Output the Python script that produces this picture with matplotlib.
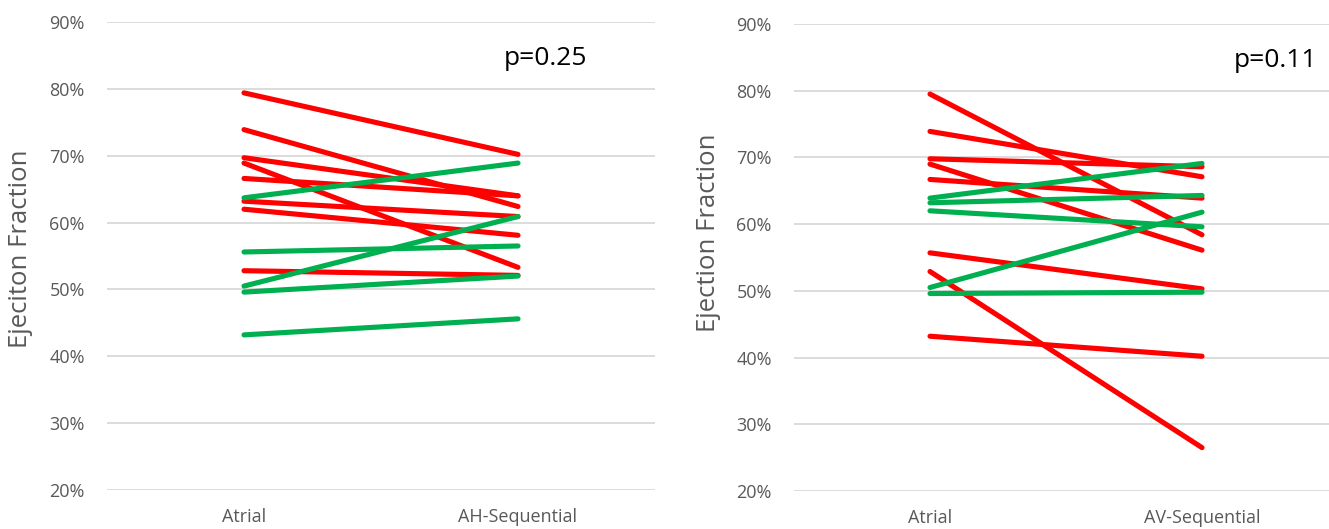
import matplotlib
matplotlib.use("Agg")
import matplotlib.pyplot as plt
from matplotlib.ticker import PercentFormatter

plt.rcParams['font.family'] = ['Open Sans', 'DejaVu Sans']

# Left panel: Atrial vs AH-Sequential
left_categories = ["Atrial", "AH-Sequential"]
left_red_start = [79.4, 73.9, 69.7, 68.9, 66.6, 63.2, 62.0, 52.8]
left_red_end   = [70.2, 62.4, 64.0, 53.3, 64.0, 60.9, 58.1, 52.1]
left_green_start = [63.7, 55.6, 50.5, 49.6, 43.2]
left_green_end   = [68.9, 56.5, 60.9, 52.0, 45.6]
left_p = "p=0.25"
left_ylabel = "Ejeciton Fraction"

# Right panel: Atrial vs AV-Sequential
right_categories = ["Atrial", "AV-Sequential"]
right_red_start = [79.5, 73.9, 69.8, 69.0, 66.7, 55.7, 52.9, 43.2]
right_red_end   = [58.4, 67.1, 68.6, 56.1, 63.9, 50.3, 26.5, 40.2]
right_green_start = [63.9, 63.2, 62.0, 50.5, 49.6]
right_green_end   = [69.1, 64.3, 59.6, 61.8, 49.8]
right_p = "p=0.11"
right_ylabel = "Ejection Fraction"

yticks = [20, 30, 40, 50, 60, 70, 80, 90]

RED = "#FF0000"
GREEN = "#00B050"
GRAY = "#595959"
GRID = "#D9D9D9"

fig = plt.figure(figsize=(13.29, 5.29), dpi=100)
axL = fig.add_axes([107/1329, 1-490/529, 548/1329, (490-22)/529])
axR = fig.add_axes([794/1329, 1-491/529, 544/1329, (491-24)/529])

def draw(ax, cats, rs, re, gs, ge, ptxt, ylabel, px, py, lab_y):
    x = [0, 1]
    for a, b in zip(rs, re):
        ax.plot(x, [a, b], color=RED, lw=3.7, solid_capstyle='round', zorder=3)
    for a, b in zip(gs, ge):
        ax.plot(x, [a, b], color=GREEN, lw=3.7, solid_capstyle='round', zorder=3)
    ax.set_xlim(-0.5, 1.5)
    ax.set_ylim(20, 90)
    ax.set_yticks(yticks)
    ax.yaxis.set_major_formatter(PercentFormatter(decimals=0))
    ax.set_xticks(x)
    ax.set_xticklabels(cats)
    ax.grid(axis='y', color=GRID, lw=1.3, zorder=0)
    ax.set_axisbelow(True)
    for s in ax.spines.values():
        s.set_visible(False)
    ax.tick_params(axis='y', length=0, pad=16, labelsize=13, labelcolor=GRAY)
    ax.tick_params(axis='x', length=0, pad=13, labelsize=13, labelcolor=GRAY)
    ax.set_ylabel(ylabel, fontsize=18.5, color=GRAY)
    ax.yaxis.set_label_coords(-0.135, lab_y)
    ax.text(px, py, ptxt, fontsize=19, color='black', ha='center', va='center')

draw(axL, left_categories, left_red_start, left_red_end, left_green_start,
     left_green_end, left_p, left_ylabel, 1.1, 84.6, 0.515)
draw(axR, right_categories, right_red_start, right_red_end, right_green_start,
     right_green_end, right_p, right_ylabel, 1.27, 84.6, 0.552)

fig.savefig("out.png", dpi=100)
